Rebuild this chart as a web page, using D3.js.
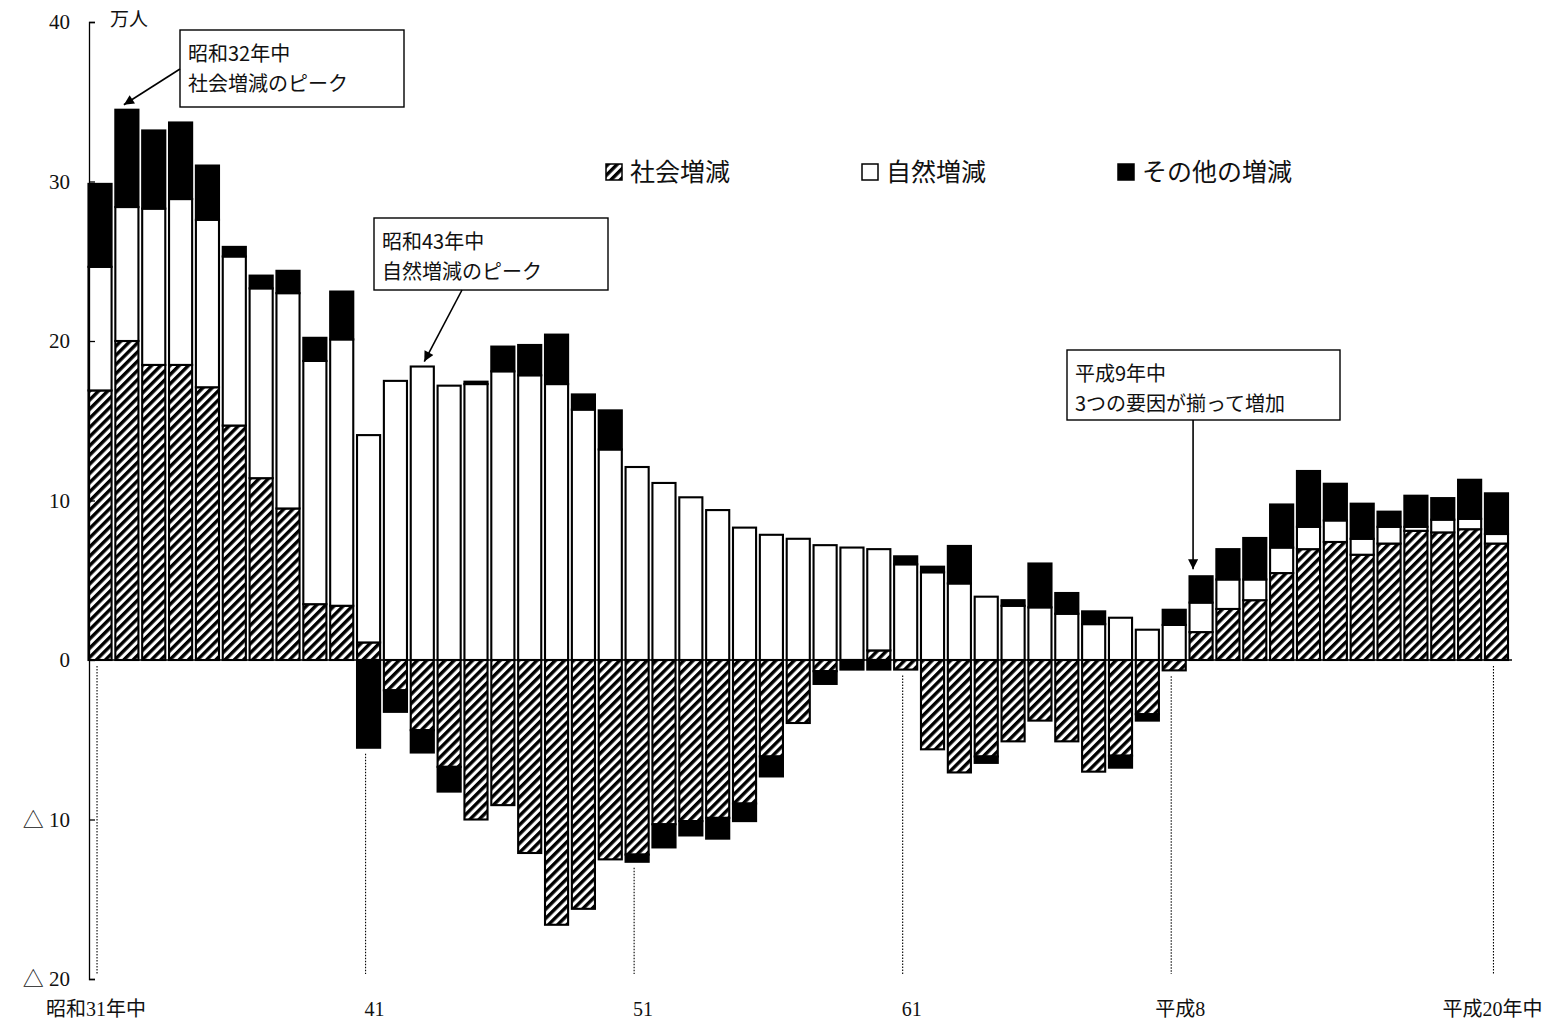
<!DOCTYPE html>
<html>
<head>
<meta charset="utf-8">
<script src="https://cdn.jsdelivr.net/npm/d3@7"></script>
<style>
  body { margin: 0; background: #fff; }
  svg text { font-family: "Noto Sans CJK JP", sans-serif; fill: #111; }
</style>
</head>
<body>
<svg id="chart" width="1556" height="1024"></svg>
<script>
// 年次（昭和31年中〜平成20年中）
const categories = [
  "昭和31","昭和32","昭和33","昭和34","昭和35","昭和36","昭和37","昭和38","昭和39","昭和40",
  "昭和41","昭和42","昭和43","昭和44","昭和45","昭和46","昭和47","昭和48","昭和49","昭和50",
  "昭和51","昭和52","昭和53","昭和54","昭和55","昭和56","昭和57","昭和58","昭和59","昭和60",
  "昭和61","昭和62","昭和63","平成元","平成2","平成3","平成4","平成5","平成6","平成7",
  "平成8","平成9","平成10","平成11","平成12","平成13","平成14","平成15","平成16","平成17",
  "平成18","平成19","平成20"
];

// 万人
const social = [
  16.9, 20.0, 18.5, 18.5, 17.1, 14.7, 11.4, 9.5, 3.5, 3.4,
  1.1, -1.9, -4.4, -6.7, -10.0, -9.1, -12.1, -16.6, -15.6, -12.5,
  -12.2, -10.3, -10.1, -9.9, -9.0, -6.05, -3.95, -0.7, 0, 0.6,
  -0.6, -5.6, -7.05, -6.05, -5.1, -3.8, -5.1, -7.0, -6.0, -3.4,
  -0.65, 1.75, 3.2, 3.75, 5.45, 6.95, 7.4, 6.6, 7.3, 8.1,
  8.0, 8.2, 7.3
];
const natural = [
  7.75, 8.4, 9.8, 10.4, 10.5, 10.6, 11.9, 13.5, 15.25, 16.7,
  13.0, 17.5, 18.4, 17.2, 17.3, 18.1, 17.85, 17.3, 15.7, 13.2,
  12.1, 11.1, 10.2, 9.4, 8.3, 7.85, 7.6, 7.2, 7.05, 6.35,
  6.0, 5.5, 4.8, 3.97, 3.4, 3.3, 2.9, 2.25, 2.65, 1.9,
  2.2, 1.85, 1.85, 1.3, 1.6, 1.4, 1.35, 1.0, 1.05, 0.25,
  0.8, 0.65, 0.6
];
const other = [
  5.2, 6.1, 4.9, 4.8, 3.4, 0.6, 0.8, 1.4, 1.45, 3.0,
  -5.5, -1.35, -1.4, -1.55, 0.15, 1.55, 1.9, 3.1, 0.95, 2.45,
  -0.45, -1.45, -0.9, -1.3, -1.1, -1.25, 0, -0.8, -0.6, -0.6,
  0.5, 0.35, 2.35, -0.4, 0.35, 2.75, 1.3, 0.8, -0.75, -0.4,
  0.95, 1.65, 1.9, 2.6, 2.7, 3.5, 2.3, 2.2, 0.95, 1.95,
  1.35, 2.45, 2.55
];

const seriesKeys = ["social", "natural", "other"];
const seriesNames = ["社会増減", "自然増減", "その他の増減"];
const yTicks = [40, 30, 20, 10, 0, -10, -20];
const xLabelCats = ["昭和31", "昭和41", "昭和51", "昭和61", "平成8", "平成20"];
const xLabelTexts = ["昭和31年中", "41", "51", "61", "平成8", "平成20年中"];
const noteCats = ["昭和32", "昭和43", "平成9"];
const noteLines = [
  ["昭和32年中", "社会増減のピーク"],
  ["昭和43年中", "自然増減のピーク"],
  ["平成9年中", "3つの要因が揃って増加"]
];

const svg = d3.select("#chart");

const x = d3.scaleBand()
  .domain(categories)
  .range([86.6, 1509.9])
  .paddingInner(0.14)
  .paddingOuter(0.07);

const y = d3.scaleLinear()
  .domain([-20, 40])
  .range([979, 22]);

const rows = categories.map((c, i) => ({ cat: c, social: social[i], natural: natural[i], other: other[i] }));
const stacked = d3.stack().keys(seriesKeys).offset(d3.stackOffsetDiverging)(rows);

// hatch pattern
const defs = svg.append("defs");
defs.append("pattern")
  .attr("id", "hatch")
  .attr("patternUnits", "userSpaceOnUse")
  .attr("width", 6.5).attr("height", 6.5)
  .attr("patternTransform", "rotate(45)")
  .call(p => {
    p.append("rect").attr("width", 6.5).attr("height", 6.5).attr("fill", "#fff");
    p.append("line").attr("x1", 1.7).attr("y1", 0).attr("x2", 1.7).attr("y2", 6.5)
      .attr("stroke", "#000").attr("stroke-width", 3.4);
  });
defs.append("marker")
  .attr("id", "arrow")
  .attr("markerUnits", "userSpaceOnUse")
  .attr("viewBox", "0 0 10 10")
  .attr("refX", 10).attr("refY", 5)
  .attr("markerWidth", 13).attr("markerHeight", 10)
  .attr("orient", "auto")
  .append("path").attr("d", "M0,0L10,5L0,10z").attr("fill", "#000");

const fills = { social: "url(#hatch)", natural: "#fff", other: "#000" };

// zero line
svg.append("line")
  .attr("x1", 89).attr("x2", 1512)
  .attr("y1", y(0)).attr("y2", y(0))
  .attr("stroke", "#000").attr("stroke-width", 1.6);

// dotted year guides
xLabelCats.forEach(c => {
  const i = categories.indexOf(c);
  const low = Math.min(0, social[i]) + Math.min(0, other[i]);
  const cx = x(c) + x.bandwidth() / 2 - 3;
  svg.append("line")
    .attr("x1", cx).attr("x2", cx)
    .attr("y1", y(low) + 6).attr("y2", y(-20) - 5)
    .attr("stroke", "#000").attr("stroke-width", 1.1)
    .attr("stroke-dasharray", "1.5,1.5");
});

// bars
svg.append("g").selectAll("g")
  .data(stacked)
  .join("g")
  .attr("fill", d => fills[d.key])
  .selectAll("rect")
  .data(d => d.filter(v => Math.abs(v[1] - v[0]) > 0.001))
  .join("rect")
  .attr("x", d => x(d.data.cat))
  .attr("width", x.bandwidth())
  .attr("y", d => y(d[1]))
  .attr("height", d => y(d[0]) - y(d[1]))
  .attr("stroke", "#000")
  .attr("stroke-width", 2.1);

// y axis (ticks inward)
svg.append("g")
  .attr("transform", "translate(89,0)")
  .call(d3.axisRight(y).tickValues(yTicks).tickSize(6).tickSizeOuter(6).tickFormat(""))
  .call(g => g.selectAll("path,line").attr("stroke", "#000").attr("stroke-width", 1.3));

svg.append("g").selectAll("text")
  .data(yTicks)
  .join("text")
  .attr("x", 70)
  .attr("y", d => y(d))
  .attr("dy", "0.35em")
  .attr("text-anchor", "end")
  .style("font-family", "'Liberation Serif', 'Noto Sans CJK JP', serif")
  .style("font-size", "21px")
  .text(d => d < 0 ? "△ " + Math.abs(d) : d);

svg.append("text")
  .attr("x", 110).attr("y", 19).attr("dy", "0.35em")
  .style("font-size", "19px")
  .text("万人");

// x labels
svg.append("g").selectAll("text")
  .data(xLabelCats)
  .join("text")
  .attr("x", (c, i) => x(c) + x.bandwidth() / 2 + (i > 0 && i < 5 ? 6 : -4))
  .attr("y", 1009)
  .attr("dy", "0.35em")
  .attr("text-anchor", "middle")
  .style("font-family", "'Liberation Serif', 'Noto Sans CJK JP', serif")
  .style("font-size", "20px")
  .text((c, i) => xLabelTexts[i]);

// legend
const legendX = [606, 862, 1118];
const leg = svg.append("g").selectAll("g")
  .data(seriesKeys)
  .join("g")
  .attr("transform", (d, i) => `translate(${legendX[i]},164)`);
leg.append("rect")
  .attr("width", 16).attr("height", 16)
  .attr("fill", d => fills[d])
  .attr("stroke", "#000").attr("stroke-width", 1.5);
leg.append("text")
  .attr("x", 24).attr("y", 8).attr("dy", "0.36em")
  .style("font-size", "25px")
  .text((d, i) => seriesNames[i]);

// annotations
const boxes = [
  { x: 180, y: 30, w: 224, h: 77 },
  { x: 374, y: 218, w: 234, h: 72 },
  { x: 1067, y: 350, w: 273, h: 70 }
];
const starts = [
  (b) => [b.x, b.y + 39],
  (b) => [b.x + 88, b.y + b.h],
  null
];
noteCats.forEach((c, i) => {
  const b = boxes[i];
  const k = categories.indexOf(c);
  const top = y(Math.max(0, social[k]) + natural[k] + Math.max(0, other[k]));
  const g = svg.append("g");
  g.append("rect")
    .attr("x", b.x).attr("y", b.y).attr("width", b.w).attr("height", b.h)
    .attr("fill", "#fff").attr("stroke", "#000").attr("stroke-width", 1.4);
  noteLines[i].forEach((t, j) => {
    g.append("text")
      .attr("x", b.x + 8).attr("y", b.y + 24 + j * 30).attr("dy", "0.35em")
      .style("font-size", "20px")
      .text(t);
  });
  let x1, y1, x2, y2;
  if (i === 2) {
    x2 = x(c) + x.bandwidth() / 2 - 8;
    x1 = x2; y1 = b.y + b.h; y2 = top - 7;
  } else {
    [x1, y1] = starts[i](b);
    x2 = x(c) + x.bandwidth() / 2 + (i === 0 ? -3 : 2);
    y2 = top - 5;
  }
  g.append("line")
    .attr("x1", x1).attr("y1", y1).attr("x2", x2).attr("y2", y2)
    .attr("stroke", "#000").attr("stroke-width", 1.6)
    .attr("marker-end", "url(#arrow)");
});
</script>
</body>
</html>
